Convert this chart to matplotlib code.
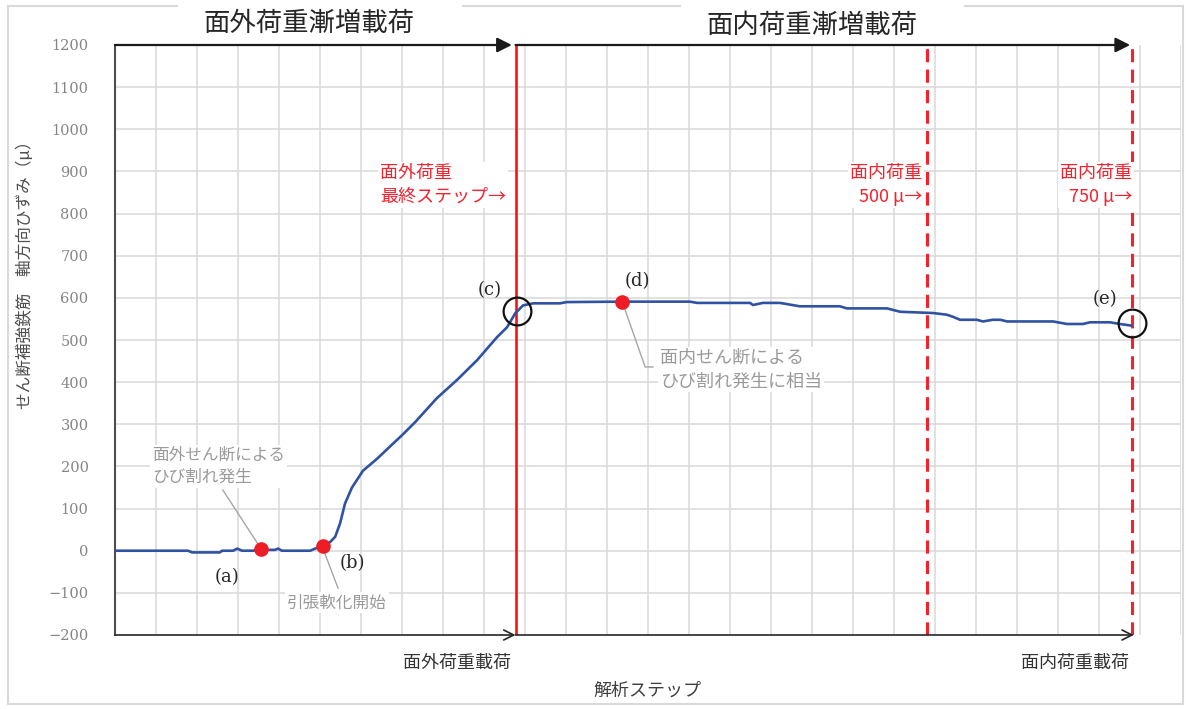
import matplotlib
matplotlib.use("Agg")
import matplotlib.pyplot as plt
from matplotlib.lines import Line2D
import matplotlib.transforms as mtransforms

plt.rcParams['font.family'] = ['Noto Sans CJK JP', 'DejaVu Sans']

# --- data (x = analysis step, y = strain in micro) ---
steps = [0, 17.8, 18.8, 25.6, 26.1, 28.8, 29.8, 31, 33.7, 35.6, 37.3, 39, 39.8, 40.7,
         47.6, 48.8, 50.7, 52.4, 53.7, 54.9, 56.1, 57.8, 60.5, 63.9, 67.8, 70, 73.2,
         78.5, 83.4, 88.3, 93.2, 95.6, 97.6, 99.5, 102, 108.5, 110.2, 123.7, 140.2,
         142, 154.9, 155.6, 158, 162.2, 167, 176.8, 178.5, 188.3, 191.5, 199.5, 202.9,
         204.4, 206.1, 210.2, 211.7, 214.1, 215.9, 217.6, 228.8, 232.2, 236.1, 237.8,
         242.7, 245.1, 248]
strain = [0, 0, -4, -4, 0, 0, 5, 0, 0, 5, 2, 2, 5, 0,
          0, 5, 11, 20, 33, 65, 112, 150, 190, 218, 254, 274, 305,
          362, 405, 452, 507, 530, 563, 582, 587, 587, 590, 591, 591,
          588, 588, 583, 588, 588, 580, 580, 575, 575, 567, 564, 560,
          555, 548, 548, 544, 548, 548, 544, 544, 538, 538, 542,
          542, 538, 534]

dot_steps = [35.6, 50.7, 123.7]
dot_strain = [5, 11, 591]
circle_steps = [98, 248]
circle_strain = [570, 540]

out_of_plane_end = 97.7
in_plane_500 = 198
in_plane_750 = 248

yticks = list(range(-200, 1201, 100))
ytick_labels = [str(v).replace('-', '\u2212') for v in yticks]

red = '#f5222d'
gray_txt = '#9a9a9a'
grid_c = '#d9d9d9'

fig = plt.figure(figsize=(11.86, 7.09), dpi=100)
ax = fig.add_axes([115 / 1186, 74 / 709, 1066 / 1186, 590 / 709])
ax.set_xlim(0, 260)
ax.set_ylim(-200, 1200)

# chart area border with gaps behind the two titles
W, H = 1186, 709
def fline(x0, y0, x1, y1):
    fig.add_artist(Line2D([x0 / W, x1 / W], [1 - y0 / H, 1 - y1 / H],
                          color=grid_c, lw=1.5, transform=fig.transFigure))
fline(8, 6, 177, 6)
fline(463, 6, 680, 6)
fline(965, 6, 1183, 6)
fline(8, 6, 8, 704)
fline(1183, 6, 1183, 704)
fline(8, 704, 1183, 704)

# grid
for gx in range(10, 261, 10):
    ax.axvline(gx, color=grid_c, lw=1.1, zorder=0)
for gy in range(-100, 1200, 100):
    ax.axhline(gy, color=grid_c, lw=1.1, zorder=0)

for s in ['top', 'right', 'bottom']:
    ax.spines[s].set_visible(False)
ax.spines['left'].set_color('#4d4d4d')
ax.spines['left'].set_linewidth(1.5)

ax.set_xticks([])
ax.set_yticks(yticks)
ax.set_yticklabels(ytick_labels, family='DejaVu Serif', fontsize=10.5, color='#858585')
ax.tick_params(axis='y', length=0, pad=19)

# load-stage lines
ax.axvline(out_of_plane_end, color='#ff1010', lw=1.9, zorder=3)
ax.axvline(in_plane_500, color=red, lw=2.2, ls=(0, (4.3, 2.4)), zorder=3)
ax.axvline(in_plane_750, color=red, lw=2.2, ls=(0, (4.3, 2.4)), zorder=3)

# arrows along the top and bottom
top_kw = dict(arrowstyle='-|>', mutation_scale=22, lw=1.6, color='#1a1a1a',
              shrinkA=0, shrinkB=0)
ax.annotate('', xy=(96.8, 1200), xytext=(0, 1200), arrowprops=top_kw,
            annotation_clip=False, zorder=5)
ax.annotate('', xy=(247.6, 1200), xytext=(97.7, 1200), arrowprops=top_kw,
            annotation_clip=False, zorder=5)
bot_kw = dict(arrowstyle='->', mutation_scale=18, lw=1.2, color='#262626',
              shrinkA=0, shrinkB=0)
ax.annotate('', xy=(97.7, -200), xytext=(0, -200), arrowprops=bot_kw,
            annotation_clip=False, zorder=5)
ax.annotate('', xy=(248.5, -200), xytext=(97.7, -200), arrowprops=bot_kw,
            annotation_clip=False, zorder=5)

# strain curve
ax.plot(steps, strain, color='#2f52a2', lw=1.9, zorder=6, solid_capstyle='round')

# leader lines
ax.plot([26.3, 35.6], [144, 5], color='#a6a6a6', lw=1, zorder=6)
ax.plot([50.7, 54.4], [6, -89], color='#a6a6a6', lw=1, zorder=6)
ax.plot([123.7, 129.3, 131.2], [591, 436, 436], color='#a6a6a6', lw=1, zorder=6)

ax.plot(dot_steps, dot_strain, 'o', color='#ee1c25', ms=9.5, zorder=7)
ax.plot(circle_steps, circle_strain, 'o', mfc='none', mec='#111111', mew=1.6,
        ms=20, zorder=7, clip_on=False)

box = dict(facecolor='white', edgecolor='none', pad=1.5)

ax.text(9.0, 200, '面外せん断による\nひび割れ発生', fontsize=12, color=gray_txt,
        ha='left', va='center', linespacing=1.4, bbox=box, zorder=4)
ax.text(54.1, -124, '引張軟化開始', fontsize=12, color=gray_txt,
        ha='center', va='center', bbox=box, zorder=4)
ax.text(132.9, 430, '面内せん断による\nひび割れ発生に相当', fontsize=13, color=gray_txt,
        ha='left', va='center', linespacing=1.4, bbox=box, zorder=4)

serif = dict(family='DejaVu Serif', fontsize=13, color='#262626',
             ha='center', va='center', zorder=8)
ax.text(27.3, -63, '(a)', **serif)
ax.text(57.8, -29, '(b)', **serif)
ax.text(91.5, 619, '(c)', **serif)
ax.text(127.3, 640, '(d)', **serif)
ax.text(241.5, 597, '(e)', **serif)

ax.text(64.6, 868, '面外荷重\n最終ステップ→', fontsize=13, color=red,
        ha='left', va='center', linespacing=1.45, bbox=box, zorder=4)
ax.text(196.8, 868, '面内荷重\n500 μ→', fontsize=13, color=red,
        ha='right', va='center', multialignment='right', linespacing=1.45,
        bbox=box, zorder=4)
ax.text(248, 868, '面内荷重\n750 μ→', fontsize=13, color=red,
        ha='right', va='center', multialignment='right', linespacing=1.45,
        bbox=box, zorder=4)

# bottom labels
trans = mtransforms.blended_transform_factory(ax.transData, ax.transAxes)
ax.text(83.4, -0.0475, '面外荷重載荷', transform=trans, fontsize=13,
        color='#333333', ha='center', va='center')
ax.text(234.1, -0.0475, '面内荷重載荷', transform=trans, fontsize=13,
        color='#333333', ha='center', va='center')
ax.text(129.8, -0.095, '解析ステップ', transform=trans, fontsize=13,
        color='#404040', ha='center', va='center')

# titles and y label
fig.text(309 / W, 1 - 23 / H, '面外荷重漸増載荷', fontsize=19, color='#262626',
         ha='center', va='center')
fig.text(812 / W, 1 - 25 / H, '面内荷重漸増載荷', fontsize=19, color='#262626',
         ha='center', va='center')
fig.text(25 / W, 1 - 271 / H, 'せん断補強鉄筋　軸方向ひずみ（μ）', fontsize=12,
         color='#4d4d4d', rotation=90, ha='center', va='center')

fig.savefig('out.png', dpi=100)
